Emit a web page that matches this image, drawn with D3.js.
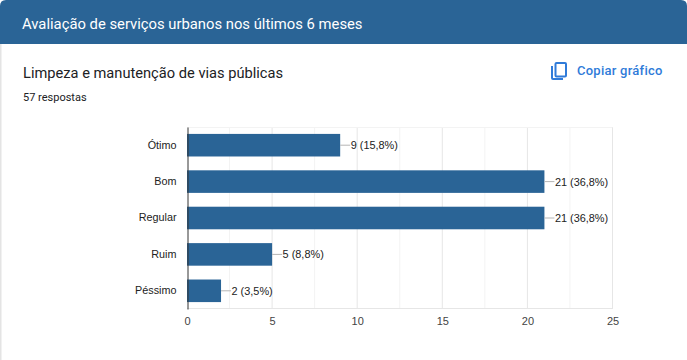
<!DOCTYPE html>
<html>
<head>
<meta charset="utf-8">
<script src="https://cdn.jsdelivr.net/npm/d3@7"></script>
<style>
  html, body { margin: 0; padding: 0; background: #fff; }
  svg { display: block; }
</style>
</head>
<body>
<div id="chart"></div>
<script>
// DATA
const categories = ["Ótimo", "Bom", "Regular", "Ruim", "Péssimo"];
const counts = [9, 21, 21, 5, 2];
const shares = ["15,8%", "36,8%", "36,8%", "8,8%", "3,5%"];
const xTicks = [0, 5, 10, 15, 20, 25];
const xMinorTicks = [2.5, 7.5, 12.5, 17.5, 22.5];

const headerTitle = "Avaliação de serviços urbanos nos últimos 6 meses";
const questionTitle = "Limpeza e manutenção de vias públicas";
const responsesText = "57 respostas";
const copyText = "Copiar gráfico";

const width = 687,
  height = 360,
  barColor = "#2a6496";

const svg = d3.select("#chart").append("svg")
  .attr("width", width)
  .attr("height", height);

// Card
svg.append("rect").attr("width", width).attr("height", height).attr("fill", "#fff");
svg.append("rect").attr("x", 0).attr("y", 44).attr("width", 1.5).attr("height", height - 44).attr("fill", "#e4e4e4");
svg.append("path")
  .attr("d", `M0 6Q0 0 6 0H${width - 6}Q${width} 0 ${width} 6V44H0Z`)
  .attr("fill", barColor);

svg.append("text")
  .attr("x", 22).attr("y", 29)
  .attr("font-family", "Roboto, sans-serif").attr("font-size", 14.8)
  .attr("fill", "#fff")
  .text(headerTitle);

svg.append("text")
  .attr("x", 23).attr("y", 78)
  .attr("font-family", "Roboto, sans-serif").attr("font-size", 14.65)
  .attr("fill", "#202124")
  .text(questionTitle);

svg.append("text")
  .attr("x", 23).attr("y", 101)
  .attr("font-family", "Roboto, sans-serif").attr("font-size", 11)
  .attr("fill", "#202124")
  .text(responsesText);

// Copy button
const icon = svg.append("g").attr("fill", "none").attr("stroke", "#2f7bd9").attr("stroke-width", 2);
icon.append("rect").attr("x", 555.5).attr("y", 63).attr("width", 10.5).attr("height", 13.5).attr("rx", 1);
icon.append("path").attr("d", "M552 66V78Q552 79 553 79H563");

svg.append("text")
  .attr("x", 577).attr("y", 75)
  .attr("font-family", "Roboto, sans-serif").attr("font-size", 13).attr("font-weight", 500)
  .attr("letter-spacing", 0.25)
  .attr("fill", "#2f7bd9")
  .text(copyText);

// Scales
const x = d3.scaleLinear().domain([0, 25]).range([187, 612.5]);
const y = d3.scaleBand().domain(categories).range([127, 309]).paddingInner(0.38).paddingOuter(0.19);

// Grid
svg.append("g").selectAll("line").data(xMinorTicks).join("line")
  .attr("x1", d => x(d)).attr("x2", d => x(d))
  .attr("y1", 127).attr("y2", 309)
  .attr("stroke", "#f3f3f3");

svg.append("g").selectAll("line").data(xTicks.slice(1)).join("line")
  .attr("x1", d => x(d)).attr("x2", d => x(d))
  .attr("y1", 127).attr("y2", 309)
  .attr("stroke", "#e6e6e6");

svg.append("line")
  .attr("x1", 187).attr("x2", 612.5)
  .attr("y1", 127.5).attr("y2", 127.5)
  .attr("stroke", "#f3f3f3");
svg.append("line")
  .attr("x1", 187).attr("x2", 612.5)
  .attr("y1", 308.5).attr("y2", 308.5)
  .attr("stroke", "#e6e6e6");

// Bars
const rows = categories.map((c, i) => ({ category: c, count: counts[i], share: shares[i] }));

svg.append("g").selectAll("rect").data(rows).join("rect")
  .attr("x", x(0))
  .attr("y", d => y(d.category))
  .attr("width", d => x(d.count) - x(0))
  .attr("height", y.bandwidth())
  .attr("fill", barColor);

// Leader lines + labels
svg.append("g").selectAll("line").data(rows).join("line")
  .attr("x1", d => x(d.count))
  .attr("x2", d => x(d.count) + 10)
  .attr("y1", d => y(d.category) + y.bandwidth() / 2)
  .attr("y2", d => y(d.category) + y.bandwidth() / 2)
  .attr("stroke", "#b5b5b5");

svg.append("g").selectAll("text").data(rows).join("text")
  .attr("x", d => x(d.count) + 10.5)
  .attr("y", d => y(d.category) + y.bandwidth() / 2 + 4)
  .attr("font-family", "'Liberation Sans', Arial, sans-serif").attr("font-size", 10.9)
  .attr("fill", "#222")
  .text(d => `${d.count} (${d.share})`);

// Axes
const yAxis = d3.axisLeft(y).tickSize(0).tickPadding(11);
const yG = svg.append("g").attr("transform", "translate(187.5,0)").call(yAxis);
yG.select(".domain").attr("stroke", "#333");
yG.selectAll("text")
  .attr("font-family", "'Liberation Sans', Arial, sans-serif").attr("font-size", 10.8)
  .attr("fill", "#222");

const xAxis = d3.axisBottom(x).tickValues(xTicks).tickSize(0).tickPadding(8);
const xG = svg.append("g").attr("transform", "translate(0,309)").call(xAxis);
xG.select(".domain").remove();
xG.selectAll("text")
  .attr("font-family", "'Liberation Sans', Arial, sans-serif").attr("font-size", 11)
  .attr("fill", "#444");
</script>
</body>
</html>
